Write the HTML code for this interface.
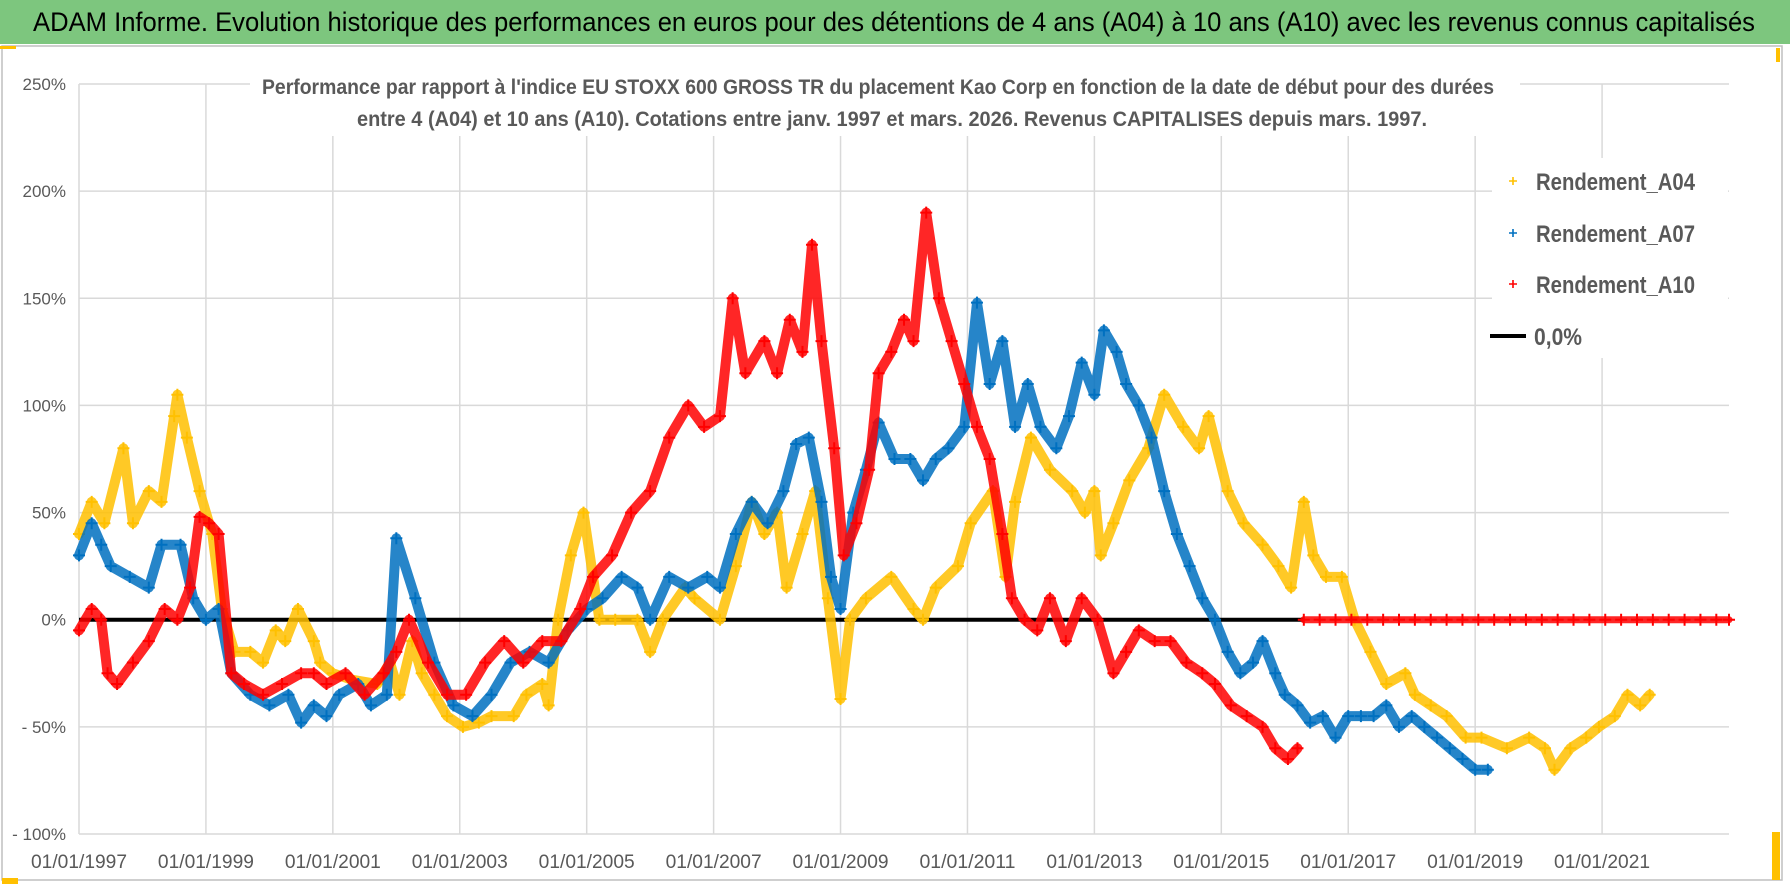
<!DOCTYPE html>
<html><head><meta charset="utf-8"><title>ADAM Informe</title>
<style>
html,body{margin:0;padding:0;background:#fff;}
svg{display:block;font-family:"Liberation Sans",sans-serif;}
</style></head>
<body>
<svg id="chart" width="1790" height="886" viewBox="0 0 1790 886" xmlns="http://www.w3.org/2000/svg">
  <rect x="0" y="0" width="1790" height="886" fill="#ffffff"/>
  <rect x="0" y="0" width="1790" height="44" fill="#7DC67E"/>
  <text x="894" y="31" text-anchor="middle" font-size="27" fill="#000" textLength="1722" lengthAdjust="spacingAndGlyphs">ADAM Informe. Evolution historique des performances en euros pour des détentions de 4 ans (A04) à 10 ans (A10) avec les revenus connus capitalisés</text>
  <rect x="2" y="46" width="1780" height="834" fill="none" stroke="#bfbfbf" stroke-width="1.5"/>
  <rect x="0" y="46" width="16" height="3" fill="#FFC000"/>
  <rect x="1776" y="48" width="4" height="14" fill="#FFC000"/>
  <rect x="1772" y="832" width="8" height="48" fill="#FFC000"/>
  <rect x="2" y="878" width="16" height="6" fill="#FFC000"/>
  <g id="grid"></g>
  <g id="axes"></g>
  <g id="series"></g>
  <rect x="250" y="66" width="1270" height="70" fill="#fff"/>
  <text x="878" y="94" text-anchor="middle" font-size="21" font-weight="bold" fill="#595959" textLength="1232" lengthAdjust="spacingAndGlyphs">Performance par rapport à l'indice EU STOXX 600 GROSS TR  du placement Kao Corp en fonction de la date de début pour des durées</text>
  <text x="892" y="126" text-anchor="middle" font-size="21" font-weight="bold" fill="#595959" textLength="1070" lengthAdjust="spacingAndGlyphs">entre 4 (A04) et 10 ans (A10).  Cotations entre janv. 1997 et mars. 2026.  Revenus CAPITALISES depuis mars. 1997.</text>
  <g id="legend">
    <rect x="1492" y="158" width="236" height="200" fill="#fff"/>
    <g>
      <path d="M1509 181h8M1513 177v8" stroke="#FFC000" stroke-width="1.6"/>
      <text x="1536" y="190" font-size="24" font-weight="bold" fill="#595959" textLength="159" lengthAdjust="spacingAndGlyphs">Rendement_A04</text>
    </g>
    <g>
      <path d="M1509 233h8M1513 229v8" stroke="#0070C0" stroke-width="1.6"/>
      <text x="1536" y="242" font-size="24" font-weight="bold" fill="#595959" textLength="159" lengthAdjust="spacingAndGlyphs">Rendement_A07</text>
    </g>
    <g>
      <path d="M1509 284h8M1513 280v8" stroke="#FF0000" stroke-width="1.6"/>
      <text x="1536" y="293" font-size="24" font-weight="bold" fill="#595959" textLength="159" lengthAdjust="spacingAndGlyphs">Rendement_A10</text>
    </g>
    <g>
      <line x1="1490" y1="336" x2="1526" y2="336" stroke="#000" stroke-width="4"/>
      <text x="1534" y="345" font-size="24" font-weight="bold" fill="#595959" textLength="48" lengthAdjust="spacingAndGlyphs">0,0%</text>
    </g>
  </g>
</svg>
<script>
const yTicks = [-100, -50, 0, 50, 100, 150, 200, 250];
const yTickLabels = ["- 100%", "- 50%", "0%", "50%", "100%", "150%", "200%", "250%"];
const xTickYears = [1997, 1999, 2001, 2003, 2005, 2007, 2009, 2011, 2013, 2015, 2017, 2019, 2021];
const xTickLabels = ["01/01/1997","01/01/1999","01/01/2001","01/01/2003","01/01/2005","01/01/2007","01/01/2009","01/01/2011","01/01/2013","01/01/2015","01/01/2017","01/01/2019","01/01/2021"];

const a04Years = [1997.0,1997.2,1997.4,1997.7,1997.85,1998.1,1998.3,1998.5,1998.55,1998.7,1998.9,1999.1,1999.25,1999.45,1999.7,1999.9,2000.1,2000.25,2000.45,2000.7,2000.8,2001.0,2001.3,2001.7,2001.9,2002.05,2002.25,2002.4,2002.6,2002.8,2003.05,2003.3,2003.5,2003.85,2004.05,2004.3,2004.4,2004.55,2004.75,2004.95,2005.2,2005.45,2005.8,2006.0,2006.2,2006.55,2006.7,2007.1,2007.35,2007.6,2007.8,2008.0,2008.15,2008.4,2008.6,2008.8,2009.0,2009.15,2009.4,2009.8,2010.15,2010.3,2010.5,2010.85,2011.05,2011.4,2011.6,2011.75,2012.0,2012.3,2012.65,2012.85,2013.0,2013.1,2013.3,2013.55,2013.85,2014.1,2014.4,2014.65,2014.8,2015.1,2015.35,2015.65,2015.9,2016.1,2016.3,2016.45,2016.65,2016.9,2017.1,2017.35,2017.6,2017.9,2018.05,2018.3,2018.55,2018.85,2019.1,2019.5,2019.85,2020.1,2020.25,2020.5,2020.75,2020.95,2021.2,2021.4,2021.6,2021.75];
const a04Values = [40,55,45,80,45,60,55,95,105,85,60,40,5,-15,-15,-20,-5,-10,5,-10,-20,-25,-28,-30,-20,-35,-10,-25,-35,-45,-50,-48,-45,-45,-35,-30,-40,0,30,50,0,0,0,-15,0,15,10,0,25,55,40,50,15,40,60,10,-37,0,10,20,5,0,15,25,45,60,20,55,85,70,60,50,60,30,45,65,80,105,90,80,95,60,45,35,25,15,55,30,20,20,0,-15,-30,-25,-35,-40,-45,-55,-55,-60,-55,-60,-70,-60,-55,-50,-45,-35,-40,-35];

const a07Years = [1997.0,1997.2,1997.35,1997.5,1997.8,1998.1,1998.3,1998.6,1998.8,1999.0,1999.2,1999.4,1999.7,2000.0,2000.3,2000.5,2000.7,2000.9,2001.1,2001.4,2001.6,2001.85,2002.0,2002.3,2002.6,2002.9,2003.2,2003.5,2003.8,2004.1,2004.4,2004.7,2005.0,2005.25,2005.55,2005.8,2006.0,2006.3,2006.6,2006.9,2007.1,2007.35,2007.6,2007.85,2008.1,2008.3,2008.5,2008.7,2008.85,2009.0,2009.2,2009.4,2009.6,2009.85,2010.1,2010.3,2010.5,2010.7,2010.95,2011.15,2011.35,2011.55,2011.75,2011.95,2012.15,2012.4,2012.6,2012.8,2013.0,2013.15,2013.35,2013.5,2013.7,2013.9,2014.1,2014.3,2014.5,2014.7,2014.9,2015.1,2015.3,2015.5,2015.65,2015.85,2016.0,2016.2,2016.4,2016.6,2016.8,2017.0,2017.2,2017.4,2017.6,2017.8,2018.0,2018.2,2018.4,2018.6,2018.8,2019.0,2019.2];
const a07Values = [30,45,35,25,20,15,35,35,10,0,5,-25,-35,-40,-35,-48,-40,-45,-35,-30,-40,-35,38,10,-20,-40,-45,-35,-20,-15,-20,-5,5,10,20,15,0,20,15,20,15,40,55,45,60,82,85,55,20,5,50,70,92,75,75,65,75,80,90,148,110,130,90,110,90,80,95,120,105,135,125,110,100,85,60,40,25,10,0,-15,-25,-20,-10,-25,-35,-40,-48,-45,-55,-45,-45,-45,-40,-50,-45,-50,-55,-60,-65,-70,-70];

const a10Years = [1997.0,1997.2,1997.35,1997.45,1997.6,1997.85,1998.1,1998.35,1998.55,1998.75,1998.9,1999.05,1999.2,1999.4,1999.6,1999.9,2000.2,2000.5,2000.7,2000.9,2001.2,2001.5,2001.8,2002.0,2002.2,2002.5,2002.8,2003.1,2003.4,2003.7,2004.0,2004.3,2004.6,2004.9,2005.1,2005.4,2005.7,2006.0,2006.3,2006.6,2006.85,2007.1,2007.3,2007.5,2007.8,2008.0,2008.2,2008.4,2008.55,2008.7,2008.9,2009.05,2009.25,2009.45,2009.6,2009.8,2010.0,2010.15,2010.35,2010.55,2010.75,2010.95,2011.15,2011.35,2011.55,2011.7,2011.9,2012.1,2012.3,2012.55,2012.8,2013.05,2013.3,2013.5,2013.7,2013.95,2014.2,2014.45,2014.7,2014.9,2015.15,2015.4,2015.65,2015.85,2016.05,2016.2];
const a10Values = [-5,5,0,-25,-30,-20,-10,5,0,15,48,45,40,-25,-30,-35,-30,-25,-25,-30,-25,-35,-25,-15,0,-20,-35,-35,-20,-10,-20,-10,-10,5,20,30,50,60,85,100,90,95,150,115,130,115,140,125,175,130,80,30,45,70,115,125,140,130,190,150,130,110,90,75,40,10,0,-5,10,-10,10,0,-25,-15,-5,-10,-10,-20,-25,-30,-40,-45,-50,-60,-65,-60];

const a10ZeroYears = [2016.3,2016.55,2016.8,2017.05,2017.3,2017.55,2017.8,2018.05,2018.3,2018.55,2018.8,2019.05,2019.3,2019.55,2019.8,2020.05,2020.3,2020.55,2020.8,2021.05,2021.3,2021.55,2021.8,2022.05,2022.3,2022.55,2022.8,2023.0];
const a10ZeroValues = [0,0,0,0,0,0,0,0,0,0,0,0,0,0,0,0,0,0,0,0,0,0,0,0,0,0,0,0];

const zeroLineStart = 1997.0, zeroLineEnd = 2016.3, xMin = 1997.0, xMax = 2023.0;

const NS = "http://www.w3.org/2000/svg";
const PX0 = 79, PX1 = 1729, PY_TOP = 84, PY_BOT = 834;
function xScale(yr){ return PX0 + (yr - xMin) / (xMax - xMin) * (PX1 - PX0); }
function yScale(v){ return PY_BOT - (v + 100) / 350 * (PY_BOT - PY_TOP); }
function mk(tag, attrs, parent){ const e = document.createElementNS(NS, tag); for (const k in attrs) e.setAttribute(k, attrs[k]); parent.appendChild(e); return e; }

const grid = document.getElementById('grid');
const axes = document.getElementById('axes');
yTicks.forEach((v, i) => {
  const y = yScale(v);
  const l = mk('line', {x1: PX0, x2: PX1, y1: y, y2: y, stroke: '#d9d9d9', 'stroke-width': 1.5}, grid);
  
  
  const t = mk('text', {x: 66, y: y + 6, 'text-anchor': 'end', 'font-size': 17, fill: '#595959'}, axes);
  t.textContent = yTickLabels[i];
  
  
});
xTickYears.forEach((yr, i) => {
  const x = xScale(yr);
  const l = mk('line', {x1: x, x2: x, y1: PY_TOP, y2: PY_BOT, stroke: '#d9d9d9', 'stroke-width': 1.5}, grid);
  
  
  const t = mk('text', {x: x, y: 868, 'text-anchor': 'middle', 'font-size': 19, fill: '#595959', textLength: 96, lengthAdjust: 'spacingAndGlyphs'}, axes);
  t.textContent = xTickLabels[i];
  
  
});

const seriesLayer = document.getElementById('series');
const zl = mk('line', {x1: xScale(zeroLineStart), x2: xScale(zeroLineEnd), y1: yScale(0), y2: yScale(0), stroke: '#000', 'stroke-width': 4}, seriesLayer);



function drawSeries(years, values, color, name, lineW){
  const g = mk('g', {}, seriesLayer);
  
  
  const pts = years.map((yr, i) => xScale(yr).toFixed(1) + ',' + yScale(values[i]).toFixed(1)).join(' ');
  const pl = mk('polyline', {points: pts, fill: 'none', stroke: color, 'stroke-width': lineW, 'stroke-linejoin': 'round', 'stroke-linecap': 'round', opacity: 0.85}, g);
  
  
  years.forEach((yr, i) => {
    const x = xScale(yr), y = yScale(values[i]);
    const p = mk('path', {d: `M${x-6} ${y}h12M${x} ${y-6}v12`, stroke: color, 'stroke-width': 2}, g);
    
    
  });
}
drawSeries(a04Years, a04Values, '#FFC000', 'series-a04', 10);
drawSeries(a07Years, a07Values, '#0070C0', 'series-a07', 10);
drawSeries(a10Years, a10Values, '#FF0000', 'series-a10', 10);
drawSeries(a10ZeroYears, a10ZeroValues, '#FF0000', 'series-a10-zero', 7);
</script>
</body></html>
